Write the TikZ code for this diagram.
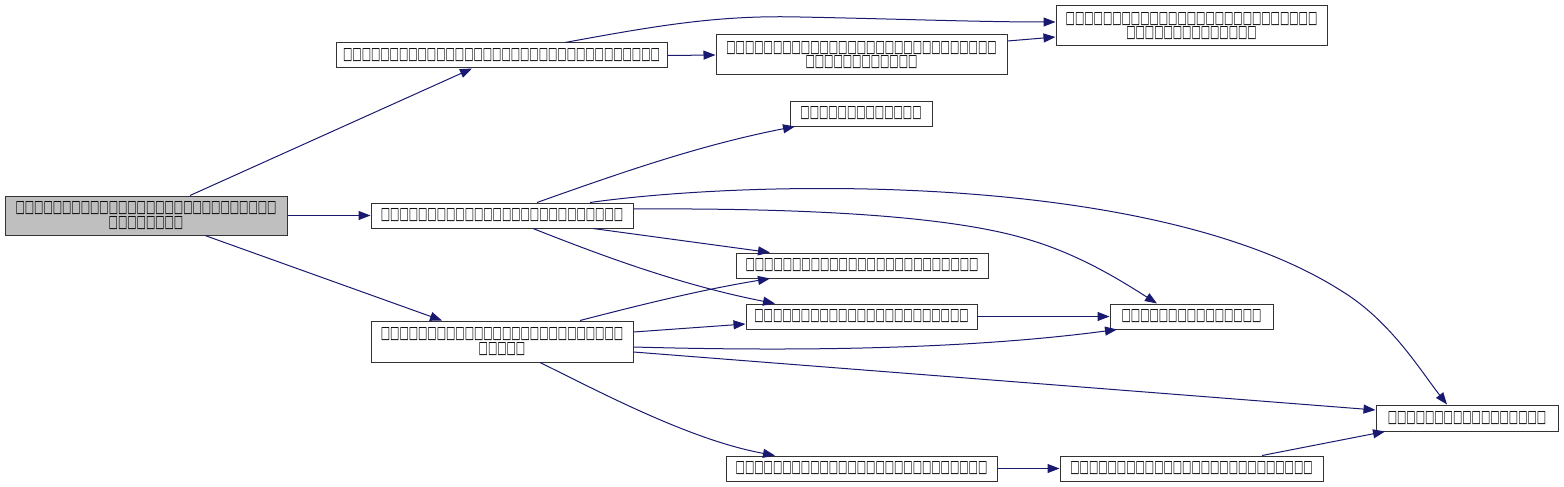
\documentclass[tikz,border=0pt]{standalone}
\usepackage{fontspec}
\newfontfamily\tofufont[FakeStretch=0.58]{DejaVu Sans}
\usetikzlibrary{arrows.meta}
\definecolor{edgecol}{HTML}{191970}
\definecolor{rootfill}{HTML}{BFBFBF}
\tikzset{
  box/.style={draw=black!80, line width=1pt, inner sep=0pt, align=center,
    font=\tofufont\fontsize{17}{14.5}\selectfont, text=black},
  rootbox/.style={box, fill=rootfill},
  edge/.style={draw=edgecol, line width=1pt, -{Triangle[length=12pt,width=9pt]}}
}
\begin{document}
\begin{tikzpicture}[x=1pt,y=-1pt]
\useasboundingbox (0,0) rectangle (1564,487);
\node[rootbox, minimum width=282pt, minimum height=39pt] (N0) at (146,215.5)
  {□□□□□{}□□□□□{}□□□□□{}□□□□□{}□□□□□{}□□□\\□□□□□{}□□□};
\node[box, minimum width=331pt, minimum height=25pt] (A) at (501.5,55.5)
  {□□□□□{}□□□□□{}□□□□□{}□□□□□{}□□□□□{}□□□□□{}□□□□};
\node[box, minimum width=291pt, minimum height=40pt] (B) at (861.5,55)
  {□□□□□{}□□□□□{}□□□□□{}□□□□□{}□□□□□{}□□□□\\□□□□□{}□□□□□{}□□};
\node[box, minimum width=271pt, minimum height=40pt] (C) at (1191.5,26)
  {□□□□□{}□□□□□{}□□□□□{}□□□□□{}□□□□□{}□□\\□□□□□{}□□□□□{}□□□□};
\node[box, minimum width=142pt, minimum height=25pt] (D) at (861,113.5)
  {□□□□□{}□□□□□{}□□□};
\node[box, minimum width=262pt, minimum height=25pt] (E) at (502,215.5)
  {□□□□□{}□□□□□{}□□□□□{}□□□□□{}□□□□□{}□};
\node[box, minimum width=252pt, minimum height=25pt] (F) at (862,265.5)
  {□□□□□{}□□□□□{}□□□□□{}□□□□□{}□□□□□};
\node[box, minimum width=231pt, minimum height=25pt] (G) at (861.5,316.5)
  {□□□□□{}□□□□□{}□□□□□{}□□□□□{}□□□};
\node[box, minimum width=163pt, minimum height=25pt] (H) at (1191.5,316.5)
  {□□□□□{}□□□□□{}□□□□□};
\node[box, minimum width=262pt, minimum height=41pt] (I) at (502,341.5)
  {□□□□□{}□□□□□{}□□□□□{}□□□□□{}□□□□□{}□\\□□□□□};
\node[box, minimum width=182pt, minimum height=26pt] (J) at (1467,418)
  {□□□□□{}□□□□□{}□□□□□{}□□};
\node[box, minimum width=271pt, minimum height=25pt] (K) at (861.5,468.5)
  {□□□□□{}□□□□□{}□□□□□{}□□□□□{}□□□□□{}□□};
\node[box, minimum width=263pt, minimum height=25pt] (L) at (1191.5,468.5)
  {□□□□□{}□□□□□{}□□□□□{}□□□□□{}□□□□□{}□};
% edges
\draw[edge] ([xshift=44pt]N0.north) -- ([xshift=-29.5pt]A.south);
\draw[edge] (N0.east) -- (E.west);
\draw[edge] ([xshift=59pt]N0.south) -- ([xshift=-60pt]I.north);
\draw[edge] (A.east) -- (B.west);
\draw[edge] ([xshift=63.5pt]A.north) .. controls (660,25) and (720,15) .. (800,17)
  .. controls (900,19) and (980,22) .. ([yshift=4pt]C.west);
\draw[edge] ([yshift=14pt]B.east) -- ([yshift=-11pt]C.west);
\draw[edge] ([xshift=35pt]E.north) .. controls (620,173) and (700,145) .. ([xshift=-66pt]D.south);
\draw[edge] ([xshift=88pt]E.north) .. controls (750,180) and (1150,170) .. (1340,290)
  .. controls (1390,320) and (1420,370) .. ([xshift=-20pt]J.north);
\draw[edge] ([yshift=6.5pt]E.east) .. controls (800,208) and (950,215) .. (1030,240)
  .. controls (1080,255) and (1120,280) .. ([xshift=-34.5pt]H.north);
\draw[edge] ([xshift=91pt]E.south) -- ([xshift=-92pt]F.north);
\draw[edge] ([xshift=31pt]E.south) .. controls (600,255) and (680,285) .. ([xshift=-86.5pt]G.north);
\draw[edge] ([xshift=78pt]I.north) .. controls (640,305) and (700,290) .. ([xshift=-92pt]F.south);
\draw[edge] ([yshift=9.5pt]I.east) -- ([yshift=-7.5pt]G.west);
\draw[edge] ([yshift=-5.5pt]I.east) .. controls (850,353) and (1000,345) .. ([xshift=-74.5pt]H.south);
\draw[edge] ([yshift=-10.5pt]I.east) -- ([yshift=8pt]J.west);
\draw[edge] ([xshift=38pt]I.south) .. controls (600,392) and (690,440) .. ([xshift=-86.5pt]K.north);
\draw[edge] (G.east) -- (H.west);
\draw[edge] (K.east) -- (L.west);
\draw[edge] ([xshift=70.5pt]L.north) -- ([xshift=-82pt]J.south);
\end{tikzpicture}
\end{document}
